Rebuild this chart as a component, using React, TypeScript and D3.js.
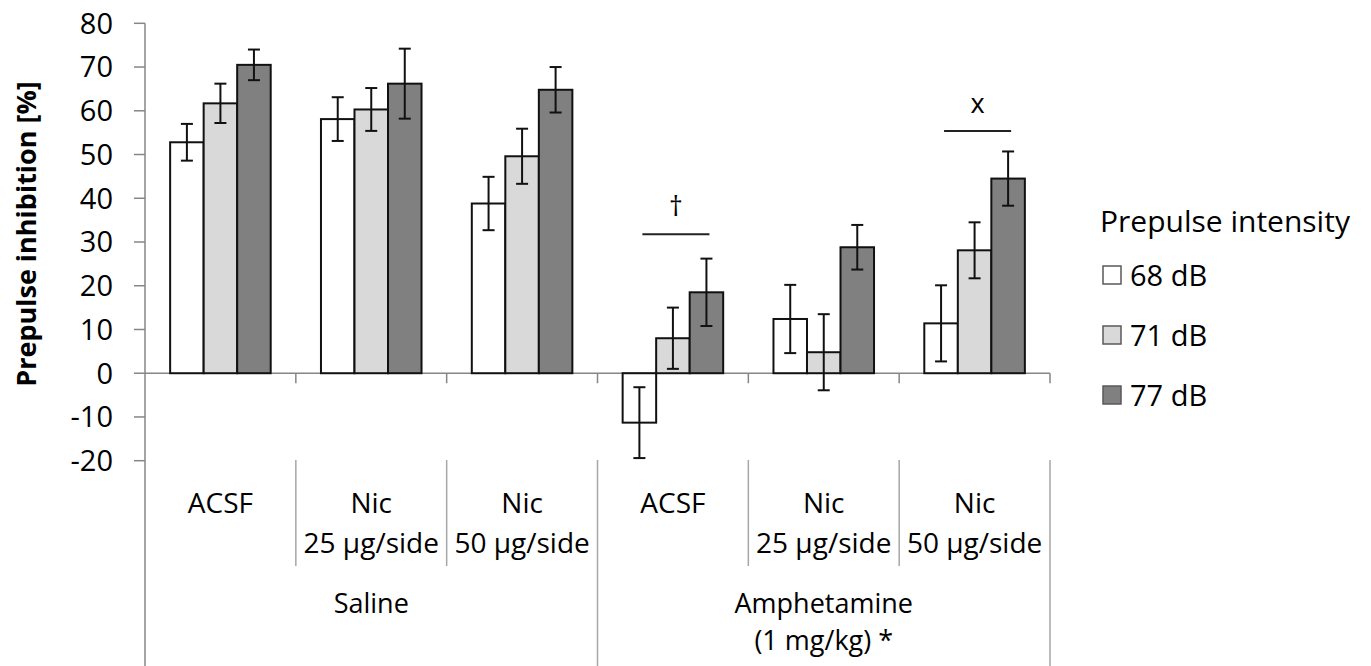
import React, { useEffect, useRef } from "react";
import * as d3 from "d3";

// sub-categories (treatment) in drawing order
const categories = ["sal-acsf", "sal-nic25", "sal-nic50", "amph-acsf", "amph-nic25", "amph-nic50"];
const categoryLabels = [
  ["ACSF"],
  ["Nic", "25 µg/side"],
  ["Nic", "50 µg/side"],
  ["ACSF"],
  ["Nic", "25 µg/side"],
  ["Nic", "50 µg/side"],
];
const groups = ["Saline", "Amphetamine"];
const groupLabels = [["Saline"], ["Amphetamine", "(1 mg/kg) *"]];

const seriesNames = ["68 dB", "71 dB", "77 dB"];
const seriesColors = ["#ffffff", "#d9d9d9", "#808080"];

// prepulse inhibition [%] and error (SEM)
const pi68 = [52.8, 58.1, 38.8, -11.3, 12.4, 11.4];
const err68 = [4.2, 5.0, 6.1, 8.1, 7.8, 8.7];
const pi71 = [61.7, 60.3, 49.6, 8.0, 4.8, 28.1];
const err71 = [4.5, 4.9, 6.3, 7.0, 8.7, 6.4];
const pi77 = [70.5, 66.2, 64.8, 18.5, 28.8, 44.5];
const err77 = [3.5, 8.0, 5.2, 7.7, 5.1, 6.2];

const yTicks = [-20, -10, 0, 10, 20, 30, 40, 50, 60, 70, 80];

// significance markers over a category
const markCategories = ["amph-acsf", "amph-nic50"];
const markLevels = [31.8, 55.4];
const markLabels = ["†", "x"];

const FONT = "'Open Sans', 'Noto Sans', sans-serif";

const App = () => {
  const svgRef = useRef<SVGSVGElement>(null);

  useEffect(() => {
    const svg = d3.select(svgRef.current);
    svg.selectAll("*").remove();

    const height = 666;
    const left = 145;
    const right = 1050;
    const axisColor = "#868686";

    const x0 = d3.scaleBand().domain(categories).range([left, right]);
    const bw = x0.bandwidth();
    const x1 = d3.scaleBand().domain(seriesNames).range([bw / 6, (bw * 5) / 6]);
    const xg = d3.scaleBand().domain(groups).range([left, right]);
    const y = d3.scaleLinear().domain([-20, 80]).range([460.7, 23.3]);
    const color = d3.scaleOrdinal<string, string>().domain(seriesNames).range(seriesColors);

    const values = [pi68, pi71, pi77];
    const errors = [err68, err71, err77];
    const bars = categories.flatMap((c, i) =>
      seriesNames.map((s, k) => ({ category: c, series: s, value: values[k][i], err: errors[k][i] }))
    );

    // y axis
    svg.append("line")
      .attr("x1", left).attr("x2", left)
      .attr("y1", y(80)).attr("y2", height)
      .attr("stroke", axisColor).attr("stroke-width", 1.5);

    const yAxis = svg.append("g");
    yAxis.selectAll("line")
      .data(yTicks)
      .enter()
      .append("line")
      .attr("x1", left - 11).attr("x2", left)
      .attr("y1", (d) => y(d)).attr("y2", (d) => y(d))
      .attr("stroke", axisColor).attr("stroke-width", 1.5);
    yAxis.selectAll("text")
      .data(yTicks)
      .enter()
      .append("text")
      .attr("x", 113)
      .attr("y", (d) => y(d))
      .attr("dy", "0.36em")
      .attr("text-anchor", "end")
      .attr("font-size", 29)
      .attr("font-family", FONT)
      .attr("fill", "#000")
      .text((d) => d);

    // zero line with category ticks
    svg.append("line")
      .attr("x1", left).attr("x2", right)
      .attr("y1", y(0)).attr("y2", y(0))
      .attr("stroke", axisColor).attr("stroke-width", 1.5);
    const bounds = categories.map((c) => x0(c) as number).concat([right]);
    svg.append("g")
      .selectAll("line")
      .data(bounds.slice(1))
      .enter()
      .append("line")
      .attr("x1", (d) => d).attr("x2", (d) => d)
      .attr("y1", y(0)).attr("y2", y(0) + 10)
      .attr("stroke", axisColor).attr("stroke-width", 1.5);

    // separators of the category table below the plot
    const groupBounds = groups.map((g) => xg(g) as number).concat([right]);
    svg.append("g")
      .selectAll("line")
      .data(bounds.filter((b) => !groupBounds.includes(b)))
      .enter()
      .append("line")
      .attr("x1", (d) => d).attr("x2", (d) => d)
      .attr("y1", 460).attr("y2", 566)
      .attr("stroke", "#a6a6a6").attr("stroke-width", 1.5);
    svg.append("g")
      .selectAll("line")
      .data(groupBounds.slice(1))
      .enter()
      .append("line")
      .attr("x1", (d) => d).attr("x2", (d) => d)
      .attr("y1", 460).attr("y2", height)
      .attr("stroke", "#a6a6a6").attr("stroke-width", 1.5);

    // bars
    svg.append("g")
      .selectAll("rect")
      .data(bars)
      .enter()
      .append("rect")
      .attr("x", (d) => (x0(d.category) as number) + (x1(d.series) as number))
      .attr("y", (d) => y(Math.max(d.value, 0)))
      .attr("width", x1.bandwidth())
      .attr("height", (d) => Math.abs(y(d.value) - y(0)))
      .attr("fill", (d) => color(d.series))
      .attr("stroke", "#111")
      .attr("stroke-width", 2);

    // error bars
    const eb = svg.append("g").attr("stroke", "#111").attr("stroke-width", 2);
    const cx = (d) => (x0(d.category) as number) + (x1(d.series) as number) + x1.bandwidth() / 2;
    eb.selectAll(".stem")
      .data(bars)
      .enter()
      .append("line")
      .attr("x1", cx).attr("x2", cx)
      .attr("y1", (d) => y(d.value + d.err))
      .attr("y2", (d) => y(d.value - d.err));
    [1, -1].forEach((sign) => {
      eb.selectAll(".cap" + sign)
        .data(bars)
        .enter()
        .append("line")
        .attr("x1", (d) => cx(d) - 6).attr("x2", (d) => cx(d) + 6)
        .attr("y1", (d) => y(d.value + sign * d.err))
        .attr("y2", (d) => y(d.value + sign * d.err));
    });

    // significance markers
    markCategories.forEach((c, i) => {
      const xa = (x0(c) as number) + (x1(seriesNames[0]) as number) + x1.bandwidth() / 2 + 3;
      const xb = (x0(c) as number) + (x1(seriesNames[2]) as number) + x1.bandwidth() / 2 + 3;
      svg.append("line")
        .attr("x1", xa).attr("x2", xb)
        .attr("y1", y(markLevels[i])).attr("y2", y(markLevels[i]))
        .attr("stroke", "#222").attr("stroke-width", 2);
      svg.append("text")
        .attr("x", (xa + xb) / 2)
        .attr("y", y(markLevels[i]) - 18)
        .attr("text-anchor", "middle")
        .attr("font-size", 27)
        .attr("font-family", FONT)
        .text(markLabels[i]);
    });

    // category labels
    categories.forEach((c, i) => {
      categoryLabels[i].forEach((line, j) => {
        svg.append("text")
          .attr("x", (x0(c) as number) + bw / 2)
          .attr("y", 513 + j * 40)
          .attr("text-anchor", "middle")
          .attr("font-size", 28)
          .attr("font-family", FONT)
          .text(line);
      });
    });
    groups.forEach((g, i) => {
      groupLabels[i].forEach((line, j) => {
        svg.append("text")
          .attr("x", (xg(g) as number) + xg.bandwidth() / 2)
          .attr("y", 613 + j * 37)
          .attr("text-anchor", "middle")
          .attr("font-size", 27)
          .attr("font-family", FONT)
          .text(line);
      });
    });

    // y axis title
    svg.append("text")
      .attr("transform", "translate(36,234) rotate(-90)")
      .attr("text-anchor", "middle")
      .attr("font-size", 27)
      .attr("font-weight", "bold")
      .attr("font-family", FONT)
      .text("Prepulse inhibition [%]");

    // legend
    const legend = svg.append("g").attr("font-family", FONT);
    legend.append("text")
      .attr("x", 1100).attr("y", 232)
      .attr("font-size", 30)
      .text("Prepulse intensity");
    const items = legend.selectAll(".item")
      .data(seriesNames)
      .enter()
      .append("g")
      .attr("transform", (d, i) => `translate(1103,${275 + i * 60})`);
    items.append("rect")
      .attr("x", 0).attr("y", -9)
      .attr("width", 18).attr("height", 18)
      .attr("fill", (d) => color(d))
      .attr("stroke", "#595959")
      .attr("stroke-width", 1.5);
    items.append("text")
      .attr("x", 27).attr("y", 11)
      .attr("font-size", 29)
      .text((d) => d);
  }, []);

  return (
    <svg
      ref={svgRef}
      width={1371}
      height={666}
      style={{ position: "absolute", left: 0, top: 0, display: "block", background: "#fff" }}
    ></svg>
  );
};

export default App;
